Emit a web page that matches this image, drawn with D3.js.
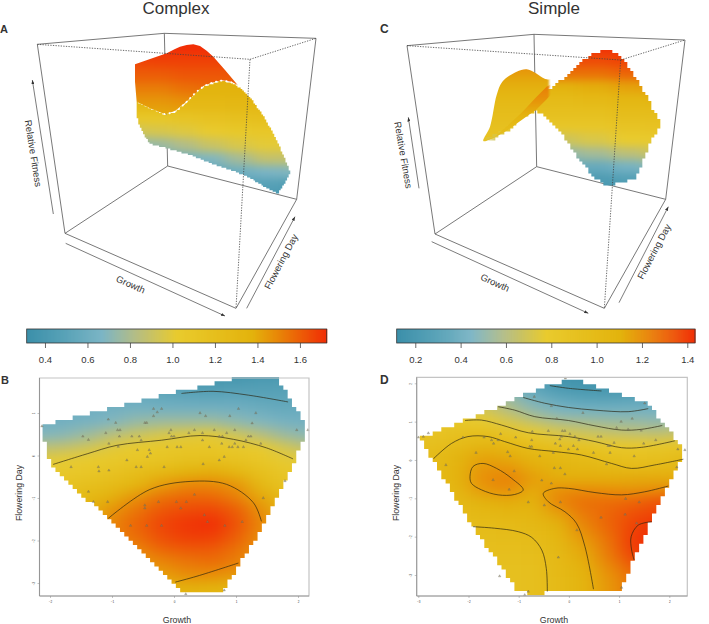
<!DOCTYPE html>
<html>
<head>
<meta charset="utf-8">
<script src="https://cdn.jsdelivr.net/npm/d3@7"></script>
<style>
  html, body { margin: 0; padding: 0; background: #fff; }
  svg { display: block; }
  text { font-family: "Liberation Sans", Arial, sans-serif; fill: #333; }
</style>
</head>
<body>
<script>
// colour ramp, position along the colour bar (0-1) and its colour
const rampStops = [0, 0.13, 0.25, 0.36, 0.5, 0.75, 0.83, 1];
const rampColors = ["#3c90aa", "#5aa3b8", "#7cb5c5", "#b4bd86", "#e9cb2e", "#e3b30d", "#e88a08", "#f12c06"];

const rangeB = [0.314, 1.726];
const rangeD = [0.118, 1.434];
const barTicksB = [0.4, 0.6, 0.8, 1.0, 1.2, 1.4, 1.6];
const barTicksD = [0.2, 0.4, 0.6, 0.8, 1.0, 1.2, 1.4];

// ---- panel B: growth (columns) x flowering day (rows) -> relative fitness
const growthB = [-2.2, -1.8, -1.4, -1.0, -0.6, -0.2, 0.2, 0.6, 1.0, 1.4, 1.8, 2.2];
const floweringB = [2.0, 1.7, 1.4, 1.1, 0.8, 0.5, 0.2, -0.1, -0.4, -0.7, -1.0, -1.3, -1.6, -1.9, -2.2, -2.5, -2.8, -3.1, -3.4];
const fitnessB = [
  [.60, .55, .50, .45, .40, .36, .34, .33, .33, .34, .36, .40],
  [.62, .60, .58, .55, .50, .45, .42, .41, .42, .44, .45, .50],
  [.62, .60, .58, .56, .56, .54, .52, .51, .52, .50, .50, .55],
  [.60, .60, .60, .62, .63, .62, .62, .62, .61, .58, .55, .58],
  [.60, .61, .64, .68, .74, .76, .76, .76, .72, .68, .63, .62],
  [.68, .70, .76, .84, .90, .95, .98, 1.0, .92, .84, .75, .70],
  [.85, .87, .92, .99, 1.04, 1.07, 1.09, 1.10, 1.06, 1.02, .93, .85],
  [.98, 1.0, 1.03, 1.06, 1.09, 1.13, 1.17, 1.18, 1.15, 1.10, 1.01, .98],
  [1.04, 1.06, 1.10, 1.15, 1.22, 1.30, 1.37, 1.39, 1.33, 1.20, 1.10, 1.05],
  [1.10, 1.14, 1.20, 1.26, 1.34, 1.44, 1.50, 1.50, 1.46, 1.30, 1.15, 1.10],
  [1.12, 1.20, 1.30, 1.38, 1.47, 1.55, 1.58, 1.58, 1.52, 1.41, 1.25, 1.15],
  [1.15, 1.25, 1.35, 1.46, 1.54, 1.62, 1.65, 1.66, 1.60, 1.47, 1.30, 1.20],
  [1.15, 1.25, 1.38, 1.50, 1.58, 1.66, 1.70, 1.72, 1.63, 1.50, 1.35, 1.20],
  [1.15, 1.25, 1.38, 1.50, 1.56, 1.64, 1.68, 1.68, 1.60, 1.48, 1.35, 1.20],
  [1.15, 1.25, 1.38, 1.45, 1.50, 1.58, 1.61, 1.61, 1.55, 1.46, 1.30, 1.20],
  [1.15, 1.25, 1.38, 1.40, 1.45, 1.50, 1.54, 1.56, 1.52, 1.44, 1.30, 1.20],
  [1.15, 1.25, 1.35, 1.35, 1.40, 1.43, 1.48, 1.48, 1.45, 1.41, 1.30, 1.20],
  [1.15, 1.25, 1.30, 1.30, 1.32, 1.35, 1.38, 1.37, 1.35, 1.30, 1.25, 1.20],
  [1.15, 1.20, 1.25, 1.25, 1.28, 1.30, 1.33, 1.32, 1.30, 1.25, 1.20, 1.20]
];
const hullB = [[-2.12, 0.71], [-0.12, 1.44], [1.04, 1.83], [1.66, 1.85], [1.98, 1.08], [2.13, 0.67], [2.11, 0.45], [1.95, -0.09],
  [1.41, -1.74], [1.04, -2.56], [0.81, -3.19], [0.18, -3.25], [-0.01, -3.0], [-2.0, -0.17], [-2.11, 0.42]];
const contoursB = [
  [[0.12, 1.46], [0.63, 1.51], [1.2, 1.42], [1.84, 1.26]],
  [[-1.95, -0.21], [-1.4, 0.04], [-0.92, 0.24], [-0.2, 0.36], [0.42, 0.47], [0.96, 0.38], [1.49, 0.18], [1.92, -0.08]],
  [[-1.06, -1.48], [-0.39, -0.8], [0.26, -0.61], [0.85, -0.68], [1.28, -1.11], [1.41, -1.55]],
  [[0.02, -2.98], [0.37, -2.84], [1.04, -2.53]]
];
const pointsB = [[-.33, 1.10], [-.20, 1.10], [-.27, 1.02], [-.33, .93], [-1.06, .85], [-.94, .77], [-.47, .77], [-.44, .77], [-.91, .60], [-.87, .60],
  [-1.10, .53], [-1.47, .45], [-1.38, .37], [-.88, .45], [-.68, .45], [-.56, .45], [-.53, .36], [-1.05, .28], [-.90, .21], [-.59, .13], [-.40, .13],
  [-.38, .05], [-.43, -.03], [-.76, -.11], [-.61, -.27], [-.53, -.27], [-1.22, -.27], [-1.21, -.37], [-1.05, -.35], [-1.66, -.27], [-.16, -.27],
  [-.05, .60], [-.08, .53], [-.04, .45], [0, .45], [-.11, .20], [.05, .20], [.11, .20], [.24, .53], [.33, .60], [.46, .53], [.51, .93], [.42, 1.0],
  [1.04, 1.10], [1.32, 1.0], [.90, .93], [1.26, .76], [.65, .60], [.85, .53], [.98, .60], [1.98, .60], [2.16, .60], [.46, .36], [.73, .45], [.78, .45],
  [.57, .20], [.77, .28], [.89, .20], [.94, .20], [.98, .28], [1.03, .20], [1.12, .20], [1.16, .36], [1.20, .45], [1.24, .45], [1.40, .28], [.81, -.03],
  [.73, -.11], [.47, -.20], [-1.38, -.85], [-1.30, -1.09], [-1.07, -1.09], [-.47, -1.17], [-.47, -1.24], [-.25, -1.09], [.04, -1.09], [.20, -1.09],
  [.33, -.92], [.11, -1.24], [-.70, -1.65], [-.44, -1.65], [-.20, -1.65], [.49, -1.40], [.54, -1.56], [.82, -1.65], [1.10, -1.56], [1.44, -1.00],
  [1.79, -.60], [.19, -3.26], [.81, -3.17], [-2.13, .69]];

// ---- panel D
const growthD = [-3.2, -2.7, -2.2, -1.7, -1.2, -0.7, -0.2, 0.3, 0.8, 1.3, 1.8, 2.3];
const floweringD = [2.2, 1.9, 1.6, 1.3, 1.0, 0.7, 0.4, 0.1, -0.2, -0.5, -0.8, -1.1, -1.4, -1.7, -2.0, -2.3, -2.6, -2.9, -3.2, -3.5];
const fitnessD = [
  [.80, .75, .60, .45, .30, .20, .14, .13, .14, .14, .15, .20],
  [.80, .78, .70, .55, .42, .30, .20, .17, .17, .17, .18, .25],
  [.85, .80, .74, .65, .52, .40, .32, .28, .27, .30, .30, .35],
  [.85, .82, .78, .70, .60, .50, .44, .41, .41, .41, .42, .45],
  [.85, .85, .82, .78, .72, .64, .57, .55, .53, .52, .50, .55],
  [.88, .88, .92, .96, .88, .78, .72, .68, .65, .63, .62, .66],
  [.92, .94, 1.0, 1.05, 1.02, .96, .90, .86, .80, .80, .82, .84],
  [.96, .99, 1.08, 1.14, 1.12, 1.07, 1.03, 1.0, .93, .91, .92, .98],
  [.97, 1.0, 1.10, 1.18, 1.18, 1.12, 1.08, 1.05, 1.03, 1.0, 1.02, 1.05],
  [.97, 1.0, 1.10, 1.20, 1.23, 1.16, 1.12, 1.12, 1.12, 1.13, 1.13, 1.12],
  [.95, 1.0, 1.07, 1.17, 1.20, 1.12, 1.20, 1.21, 1.20, 1.19, 1.21, 1.23],
  [.95, .98, 1.03, 1.10, 1.12, 1.10, 1.22, 1.27, 1.28, 1.30, 1.34, 1.35],
  [.93, .96, 1.0, 1.04, 1.06, 1.07, 1.15, 1.25, 1.30, 1.35, 1.38, 1.38],
  [.92, .94, .97, 1.0, 1.01, 1.03, 1.10, 1.22, 1.30, 1.38, 1.42, 1.42],
  [.90, .92, .95, .97, .98, 1.0, 1.07, 1.18, 1.28, 1.40, 1.45, 1.45],
  [.88, .90, .93, .95, .96, .97, 1.04, 1.14, 1.26, 1.40, 1.46, 1.46],
  [.86, .90, .92, .93, .94, .95, 1.02, 1.12, 1.24, 1.36, 1.42, 1.42],
  [.90, .90, .90, .92, .93, .94, 1.02, 1.10, 1.20, 1.30, 1.36, 1.36],
  [.90, .90, .90, .91, .92, .94, 1.01, 1.09, 1.18, 1.27, 1.30, 1.30],
  [.90, .90, .90, .91, .92, .94, 1.01, 1.09, 1.18, 1.27, 1.30, 1.30]
];
const hullD = [[-2.97, .57], [-1.41, 1.39], [-.35, 2.0], [.12, 2.09], [.78, 1.83], [1.58, 1.48], [2.28, .30], [2.28, .09], [1.95, -.70],
  [1.28, -2.61], [1.05, -3.37], [-.01, -3.43], [-.74, -3.48], [-1.01, -3.43], [-1.91, -1.74]];
const contoursD = [
  [[-.38, 1.94], [-.01, 1.87], [.65, 1.80]],
  [[-.91, 1.63], [-.48, 1.48], [-.01, 1.37], [.52, 1.30], [1.18, 1.26], [1.58, 1.34]],
  [[-1.41, 1.39], [-1.08, 1.30], [-.68, 1.13], [-.01, 1.03], [.52, .89], [1.05, .78], [1.45, .80], [1.86, .90]],
  [[-2.07, 1.03], [-1.74, 1.04], [-1.34, .91], [-.81, .71], [-.01, .61], [.52, .48], [1.05, .32], [1.45, .33], [2.11, .50]],
  [[-2.70, .03], [-2.34, .43], [-2.01, .61], [-1.61, .61], [-1.28, .48], [-.81, .30], [-.28, .22], [.25, .13], [.85, -.09], [1.25, -.22], [1.71, -.13], [2.28, .02]],
  [[1.98, -.68], [1.51, -.83], [1.05, -.91], [.52, -.85], [-.01, -.74], [-.28, -.74], [-.51, -.87], [-.41, -1.09], [-.08, -1.35], [.15, -1.65], [.32, -2.26], [.49, -3.37]],
  [[-1.91, -1.74], [-1.48, -1.78], [-1.01, -1.87], [-.74, -2.02], [-.54, -2.35], [-.45, -2.83], [-.43, -3.43]],
  [[1.65, -1.61], [1.38, -1.70], [1.24, -2.0], [1.25, -2.35], [1.30, -2.61]]
];
const hillD = [[-1.97, -.43], [-1.91, -.17], [-1.71, -.09], [-1.44, -.22], [-1.14, -.48], [-.91, -.78], [-1.08, -.90], [-1.41, -.91], [-1.74, -.78], [-1.94, -.61]];
const pointsD = [[-.07, 2.13], [-.69, 1.65], [-.35, 1.41], [.28, 1.23], [-.24, 1.08], [1.51, 1.48], [1.26, 1.08], [1.04, 1.0], [1.44, .77], [.95, .84], [1.18, .80],
  [-3.0, .59], [-2.9, .61], [-2.8, .70], [-2.11, .59], [-1.69, .59], [-1.36, .68], [-1.54, .52], [-1.41, .52], [-1.50, .43], [-1.06, .59], [-.73, .74], [-.74, .52],
  [-.41, .76], [-.13, .76], [-.08, .76], [.02, .68], [-.15, .61], [-.18, .54], [-.27, .43], [-.17, .37], [.12, .61], [.20, .52], [.09, .37], [-.01, .28], [.17, .28],
  [.58, .61], [.64, .61], [.90, .45], [.82, .37], [.78, .37], [1.49, .43], [1.73, .52], [2.17, .28], [2.31, .26], [-.78, .35], [-.74, .35], [-1.22, .21], [-1.17, .10],
  [-1.85, .19], [-.58, .10], [-.31, .19], [.49, .19], [.82, .19], [1.30, .10], [.75, -.11], [-.29, -.21], [-.17, -.21], [-.08, -.37], [-1.09, -.29], [-2.45, -.13],
  [2.15, -.19], [-1.51, -.52], [-1.19, -.77], [-.54, -.53], [-.35, -.61], [-.81, -1.10], [-.49, -1.18], [-.17, -1.10], [1.13, -1.01], [1.40, -1.10], [1.12, -1.42],
  [.64, -1.50], [.16, -1.83], [1.35, -1.65], [-.21, -2.54], [-1.38, -3.03], [-.81, -3.43], [-.88, -3.52], [1.05, -3.33]];

// ---- surfaces A and C in view units
const ridgeColsA = [20, 100, 180, 260, 340, 420, 500];
const upperRowsA = [0, 40, 80, 120, 160, 200, 240, 280];
const upperFitA = [
  [1.72, 1.72, 1.72, 1.72, 1.72, 1.72, 1.72],
  [1.71, 1.72, 1.72, 1.72, 1.72, 1.72, 1.72],
  [1.66, 1.67, 1.67, 1.67, 1.67, 1.67, 1.67],
  [1.60, 1.60, 1.62, 1.62, 1.62, 1.62, 1.62],
  [1.52, 1.52, 1.55, 1.57, 1.58, 1.58, 1.58],
  [1.45, 1.45, 1.47, 1.50, 1.50, 1.50, 1.50],
  [1.40, 1.40, 1.41, 1.42, 1.42, 1.42, 1.42],
  [1.38, 1.38, 1.38, 1.38, 1.38, 1.38, 1.38]
];
const upperEdgeA = [[30, 88], [125, 55], [150, 42], [165, 35], [185, 30], [205, 28], [225, 33], [245, 47], [265, 65], [300, 105], [338, 150], [320, 140], [290, 136],
  [260, 143], [235, 153], [210, 178], [180, 203], [150, 228], [120, 238], [75, 220], [35, 200], [30, 140]];
const lowerRowsA = [130, 170, 210, 250, 290, 330, 370, 410, 450, 490];
const lowerFitA = [
  [1.38, 1.38, 1.38, 1.38, 1.38, 1.38, 1.38],
  [1.35, 1.35, 1.35, 1.35, 1.37, 1.36, 1.36],
  [1.28, 1.28, 1.28, 1.28, 1.30, 1.30, 1.30],
  [1.08, 1.08, 1.12, 1.15, 1.18, 1.20, 1.20],
  [.92, .95, .98, 1.03, 1.07, 1.08, 1.10],
  [.70, .75, .82, .90, .96, 1.0, 1.0],
  [.55, .55, .62, .68, .78, .88, .88],
  [.50, .50, .50, .52, .60, .66, .68],
  [.45, .45, .45, .45, .45, .48, .45],
  [.38, .38, .38, .38, .38, .38, .38]
];
const lowerEdgeA = [[35, 200], [75, 220], [118, 238], [150, 232], [180, 205], [215, 170], [240, 153], [290, 138], [325, 145], [355, 165], [385, 200], [420, 250],
  [450, 305], [480, 370], [495, 412], [478, 445], [458, 475], [420, 455], [370, 425], [320, 405], [260, 385], [200, 360], [130, 340], [75, 325], [55, 295], [38, 260]];
const ridgeDotsA = [[118, 237], [150, 230], [180, 205], [215, 170], [240, 152], [270, 141], [295, 137], [330, 146]];

const bodyColsC = [160, 260, 360, 460, 560];
const bodyRowsC = [20, 60, 100, 140, 180, 220, 260, 300, 340, 380, 420, 460];
const bodyFitC = [
  [1.43, 1.43, 1.43, 1.43, 1.43],
  [1.36, 1.36, 1.36, 1.38, 1.38],
  [1.27, 1.27, 1.27, 1.30, 1.30],
  [1.10, 1.10, 1.12, 1.15, 1.17],
  [1.0, 1.0, 1.02, 1.05, 1.07],
  [.95, .93, .93, .97, .97],
  [.85, .84, .84, .88, .90],
  [.70, .68, .72, .78, .80],
  [.50, .50, .55, .62, .68],
  [.35, .35, .35, .42, .50],
  [.20, .20, .22, .25, .30],
  [.14, .14, .14, .14, .14]
];
const bodyEdgeC = [[25, 303], [60, 295], [100, 270], [150, 225], [200, 165], [270, 112], [320, 65], [360, 38], [395, 30], [430, 40], [455, 70], [480, 110], [515, 165],
  [535, 210], [553, 240], [553, 265], [530, 300], [510, 345], [490, 400], [480, 418], [440, 425], [400, 435], [375, 425], [340, 390], [300, 340], [260, 280], [220, 235], [185, 210]];
const backRowsC = [80, 120, 160, 200, 240, 280, 320];
const backFitC = [[1.2], [1.13], [1.06], [1.0], [.95], [.9], [.88]];
const backEdgeC = [[25, 303], [45, 260], [65, 165], [82, 125], [125, 95], [155, 88], [180, 98], [215, 118], [245, 115], [272, 110], [215, 150], [185, 180], [140, 225], [100, 260], [60, 290]];
const foldRowsC = [100, 140, 180, 220, 260, 300];
const foldFitC = [[1.28], [1.24], [1.19], [1.1], [1.0], [.93]];
const foldEdgeC = [[25, 303], [60, 290], [100, 255], [140, 218], [185, 170], [215, 140], [272, 108], [255, 135], [215, 178], [185, 208], [140, 240], [95, 272], [55, 295]];

// box corners: top left, top back, top right, top front, floor left, floor back, floor right, floor front
const cornersA = [[112, 133], [493, 100], [948, 115], [750, 178], [195, 700], [503, 498], [890, 598], [708, 925]];
const cornersC = [[156, 137], [537, 103], [990, 120], [797, 180], [240, 702], [545, 500], [932, 598], [748, 925]];
const solidEdges = [[0, 1], [1, 2], [0, 4], [2, 6], [1, 5], [4, 5], [5, 6], [6, 7], [7, 4]];
const dashedEdges = [[0, 3], [3, 2], [3, 7]];
const arrowsA = [[[160, 642], [97, 240]], [[197, 730], [675, 948]], [[740, 925], [885, 650]]];
const arrowsC = [[[192, 565], [160, 352]], [[230, 725], [700, 940]], [[792, 908], [940, 620]]];
const axisNames = ["Relative Fitness", "Growth", "Flowering Day"];

const W = 709, H = 624;
const svg = d3.select("body").append("svg").attr("width", W).attr("height", H);
const defs = svg.append("defs");

defs.append("marker").attr("id", "head")
  .attr("viewBox", "0 0 8 6").attr("refX", 8).attr("refY", 3)
  .attr("markerWidth", 6).attr("markerHeight", 4.5).attr("orient", "auto")
  .append("path").attr("d", "M0,0L8,3L0,6Z").attr("fill", "#333");

let uid = 0;
const rampFor = (range) => d3.scaleLinear()
  .domain(rampStops.map(t => range[0] + t * (range[1] - range[0])))
  .range(rampColors)
  .clamp(true);

// filled table cells, soft-blurred, cut by a stepped or a smooth outline
const drawField = (parent, { x, y, cols, rows, table, color, edge, stepX, stepY, blurX, blurY, curve }) => {
  const id = `f${uid++}`;
  const poly = edge.map(d => [x(d[0]), y(d[1])]);
  const clip = defs.append("clipPath").attr("id", `clip-${id}`);
  if (stepX) {
    const [x0, x1] = d3.extent(poly, d => d[0]);
    const [y0, y1] = d3.extent(poly, d => d[1]);
    // one path, spans per row, so no seams show between steps
    let d = "";
    for (let py = y0; py < y1; py += stepY) {
      let start = null;
      for (let px = x0; px < x1 + stepX; px += stepX) {
        const inside = d3.polygonContains(poly, [px + stepX / 2, py + stepY / 2]);
        if (inside && start === null) start = px;
        if (!inside && start !== null) {
          d += `M${start},${py}H${px}V${py + stepY + 0.4}H${start}Z`;
          start = null;
        }
      }
    }
    clip.append("path").attr("d", d);
  } else {
    clip.append("path").attr("d", d3.line().curve(curve || d3.curveLinearClosed)(poly));
  }
  defs.append("filter").attr("id", `blur-${id}`)
    .attr("filterUnits", "userSpaceOnUse")
    .attr("x", 0).attr("y", 0).attr("width", W).attr("height", H)
    .attr("color-interpolation-filters", "sRGB")
    .append("feGaussianBlur").attr("stdDeviation", `${blurX} ${blurY}`);

  const pad = 40;
  const edges = (vals, s) => {
    const c = vals.map(s);
    const dir = c.length > 1 && c[1] < c[0] ? -1 : 1;
    return c.map((v, i) => [
      i ? (c[i - 1] + v) / 2 : v - dir * pad,
      i < c.length - 1 ? (v + c[i + 1]) / 2 : v + dir * pad
    ].sort(d3.ascending));
  };
  const xe = edges(cols, x), ye = edges(rows, y);
  const cells = table.flatMap((row, r) => row.map((v, c) => ({ v, r, c })));
  parent.append("g").attr("clip-path", `url(#clip-${id})`)
    .append("g").attr("filter", `url(#blur-${id})`)
    .selectAll("rect").data(cells).join("rect")
    .attr("x", d => xe[d.c][0])
    .attr("y", d => ye[d.r][0])
    .attr("width", d => xe[d.c][1] - xe[d.c][0] + 0.5)
    .attr("height", d => ye[d.r][1] - ye[d.r][0] + 0.5)
    .attr("shape-rendering", "crispEdges")
    .attr("fill", d => color(d.v));
};

const drawColorBar = (range, ticks, px0, px1) => {
  const color = rampFor(range);
  const s = d3.scaleLinear().domain(range).range([px0, px1]);
  const g = svg.append("g");
  const slices = d3.range(0, 300).map(i => range[0] + i / 300 * (range[1] - range[0]));
  g.selectAll("rect").data(slices).join("rect")
    .attr("x", d => s(d)).attr("y", 329)
    .attr("width", (px1 - px0) / 300 + 0.6).attr("height", 14)
    .attr("fill", d => color(d));
  g.append("rect").attr("x", px0).attr("y", 329).attr("width", px1 - px0).attr("height", 14)
    .attr("fill", "none").attr("stroke", "#333").attr("stroke-width", 0.8);
  const axis = g.append("g").attr("transform", "translate(0,343)")
    .call(d3.axisBottom(s).tickValues(ticks).tickSize(5).tickPadding(8).tickFormat(d3.format(".1f")));
  axis.select(".domain").remove();
  axis.selectAll("line").attr("stroke", "#444").attr("stroke-width", 0.8);
  axis.selectAll("text").attr("font-size", 9.5).attr("fill", "#333");
};

const drawHeat = (opts) => {
  const { box, xDom, yDom, xPx, yPx, cols, rows, table, range, hull, stepX, stepY, contours, closed, points, xTicks, yTicks, label } = opts;
  const x = d3.scaleLinear().domain(xDom).range(xPx);
  const y = d3.scaleLinear().domain(yDom).range(yPx);
  const g = svg.append("g");
  drawField(g, { x, y, cols, rows, table, color: rampFor(range), edge: hull, stepX, stepY, blurX: 10, blurY: 6 });

  const line = d3.line().x(d => x(d[0])).y(d => y(d[1])).curve(d3.curveCatmullRom);
  g.selectAll(".contour").data(contours).join("path")
    .attr("class", "contour").attr("d", line)
    .attr("fill", "none").attr("stroke", "#2a2410").attr("stroke-width", 0.75).attr("stroke-opacity", 0.9);
  if (closed) {
    g.append("path").datum(closed).attr("d", line.curve(d3.curveCatmullRomClosed))
      .attr("fill", "none").attr("stroke", "#2a2410").attr("stroke-width", 0.75).attr("stroke-opacity", 0.9);
  }

  const tri = d3.symbol().type(d3.symbolTriangle).size(2.6)();
  g.selectAll(".pt").data(points).join("path")
    .attr("class", "pt").attr("d", tri)
    .attr("transform", d => `translate(${x(d[0])},${y(d[1])})`)
    .attr("fill", "#8a8060").attr("fill-opacity", 0.6).attr("stroke", "#5c5c50").attr("stroke-width", 0.25);

  // frame
  g.append("path").attr("d", `M${box.l},${box.b}V${box.t}H${box.r}V${box.b}H${box.l}`)
    .attr("fill", "none").attr("stroke", "#c4c4c4").attr("stroke-width", 1.2);
  g.append("path").attr("d", `M${box.l},${box.t}V${box.b}H${box.r}`)
    .attr("fill", "none").attr("stroke", "#8a8a8a").attr("stroke-width", 0.8);

  const ax = g.append("g").attr("transform", `translate(0,${box.b})`)
    .call(d3.axisBottom(x).tickValues(xTicks).tickSize(2).tickPadding(3).tickFormat(d3.format("d")));
  const ay = g.append("g").attr("transform", `translate(${box.l},0)`)
    .call(d3.axisLeft(y).tickValues(yTicks).tickSize(2).tickPadding(3).tickFormat(d3.format("d")));
  ax.select(".domain").remove();
  ay.select(".domain").remove();
  g.selectAll(".tick line").attr("stroke", "#888").attr("stroke-width", 0.5);
  ax.selectAll("text").attr("font-size", 3).attr("fill", "#555");
  ay.selectAll("text").attr("font-size", 3).attr("fill", "#555")
    .attr("text-anchor", "middle").attr("dy", 0).attr("x", -5)
    .attr("transform", "rotate(-90,-5,0)");

  g.append("text").attr("x", label.gx).attr("y", 623).attr("text-anchor", "middle").attr("font-size", 8.8).text("Growth");
  g.append("text").attr("transform", `translate(${label.fx},493) rotate(-90)`).attr("text-anchor", "middle").attr("font-size", 8.8).text("Flowering Day");
};

const drawBoxBack = (g, corners, px, py) => {
  g.selectAll(".solid").data(solidEdges).join("line")
    .attr("class", "solid")
    .attr("x1", d => px(corners[d[0]][0])).attr("y1", d => py(corners[d[0]][1]))
    .attr("x2", d => px(corners[d[1]][0])).attr("y2", d => py(corners[d[1]][1]))
    .attr("stroke", "#555").attr("stroke-width", 0.8);
};
const drawBoxFront = (g, corners, arrows, px, py, labelAt) => {
  g.selectAll(".dash").data(dashedEdges).join("line")
    .attr("class", "dash")
    .attr("x1", d => px(corners[d[0]][0])).attr("y1", d => py(corners[d[0]][1]))
    .attr("x2", d => px(corners[d[1]][0])).attr("y2", d => py(corners[d[1]][1]))
    .attr("stroke", "#444").attr("stroke-width", 0.8).attr("stroke-dasharray", "1.3 1.3");
  g.selectAll(".arrow").data(arrows).join("line")
    .attr("class", "arrow")
    .attr("x1", d => px(d[0][0])).attr("y1", d => py(d[0][1]))
    .attr("x2", d => px(d[1][0])).attr("y2", d => py(d[1][1]))
    .attr("stroke", "#444").attr("stroke-width", 0.7).attr("marker-end", "url(#head)");
  g.selectAll(".axname").data(axisNames).join("text")
    .attr("class", "axname")
    .attr("text-anchor", "middle").attr("font-size", 9.5).attr("dy", "0.35em")
    .attr("transform", (d, i) => `translate(${px(labelAt[i][0])},${py(labelAt[i][1])}) rotate(${labelAt[i][2]})`)
    .text(d => d);
};

// --- panel A
const boxXA = d3.scaleLinear().domain([0, 1050]).range([0, 350]);
const boxY = d3.scaleLinear().domain([0, 960]).range([0, 320]);
const viewXA = d3.scaleLinear().domain([0, 510]).range([125, 295]);
const viewYA = d3.scaleLinear().domain([0, 510]).range([35, 205]);
const colorA = rampFor(rangeB);
const gA = svg.append("g");
drawBoxBack(gA, cornersA, boxXA, boxY);
drawField(gA, { x: viewXA, y: viewYA, cols: ridgeColsA, rows: upperRowsA, table: upperFitA, color: colorA, edge: upperEdgeA, blurX: 8, blurY: 5 });
drawField(gA, { x: viewXA, y: viewYA, cols: ridgeColsA, rows: lowerRowsA, table: lowerFitA, color: colorA, edge: lowerEdgeA, stepX: 1.6, stepY: 1.6, blurX: 8, blurY: 4 });
gA.append("path").datum(ridgeDotsA)
  .attr("d", d3.line().x(d => viewXA(d[0])).y(d => viewYA(d[1])).curve(d3.curveCatmullRom))
  .attr("fill", "none").attr("stroke", "#fff").attr("stroke-width", 1.8)
  .attr("stroke-linecap", "round").attr("stroke-dasharray", "0.4 4.8");
drawBoxFront(gA, cornersA, arrowsA, boxXA, boxY, [[100, 460, 81], [392, 853, 24], [843, 785, -62]]);

// --- panel C
const boxXC = d3.scaleLinear().domain([0, 1062]).range([355, 709]);
const viewXC = d3.scaleLinear().domain([0, 570]).range([475, 665]);
const viewYC = d3.scaleLinear().domain([0, 450]).range([40, 190]);
const colorC = rampFor(rangeD);
const gC = svg.append("g");
drawBoxBack(gC, cornersC, boxXC, boxY);
drawField(gC, { x: viewXC, y: viewYC, cols: [100], rows: backRowsC, table: backFitC, color: colorC, edge: backEdgeC, blurX: 1, blurY: 6, curve: d3.curveCatmullRomClosed });
drawField(gC, { x: viewXC, y: viewYC, cols: bodyColsC, rows: bodyRowsC, table: bodyFitC, color: colorC, edge: bodyEdgeC, stepX: 3, stepY: 3, blurX: 8, blurY: 4 });
drawField(gC, { x: viewXC, y: viewYC, cols: [100], rows: foldRowsC, table: foldFitC, color: colorC, edge: foldEdgeC, blurX: 1, blurY: 6 });
drawBoxFront(gC, cornersC, arrowsC, boxXC, boxY, [[145, 465, 80], [420, 848, 24], [897, 755, -62]]);

// --- colour bars
drawColorBar(rangeB, barTicksB, 26.7, 326.7);
drawColorBar(rangeD, barTicksD, 396.7, 695);

// --- heat maps
drawHeat({
  box: { l: 39.5, r: 309, t: 378, b: 596 }, xDom: [-2, 2], yDom: [1, -3], xPx: [50, 298], yPx: [413, 583],
  cols: growthB, rows: floweringB, table: fitnessB, range: rangeB, hull: hullB, stepX: 4.3, stepY: 4.3,
  contours: contoursB, points: pointsB, xTicks: [-2, -1, 0, 1, 2], yTicks: [1, 0, -1, -2, -3], label: { gx: 177, fx: 22 }
});
drawHeat({
  box: { l: 416.7, r: 687.3, t: 377.3, b: 596 }, xDom: [-3, 2], yDom: [2, -3], xPx: [418.3, 669.3], yPx: [383.3, 575],
  cols: growthD, rows: floweringD, table: fitnessD, range: rangeD, hull: hullD, stepX: 4.3, stepY: 4.3,
  contours: contoursD, closed: hillD, points: pointsD, xTicks: [-3, -2, -1, 0, 1, 2], yTicks: [2, 1, 0, -1, -2, -3], label: { gx: 554, fx: 399 }
});

// --- titles and panel letters
svg.append("text").attr("x", 176).attr("y", 14).attr("text-anchor", "middle").attr("font-size", 17).attr("fill", "#222").text("Complex");
svg.append("text").attr("x", 554).attr("y", 14).attr("text-anchor", "middle").attr("font-size", 17).attr("fill", "#222").text("Simple");
svg.append("text").attr("x", 0).attr("y", 33).attr("font-size", 11).attr("font-weight", "bold").attr("fill", "#111").text("A");
svg.append("text").attr("x", 1).attr("y", 384).attr("font-size", 11).attr("font-weight", "bold").attr("fill", "#111").text("B");
svg.append("text").attr("x", 380).attr("y", 33).attr("font-size", 12).attr("font-weight", "bold").attr("fill", "#111").text("C");
svg.append("text").attr("x", 380).attr("y", 384).attr("font-size", 12).attr("font-weight", "bold").attr("fill", "#111").text("D");
</script>
</body>
</html>
